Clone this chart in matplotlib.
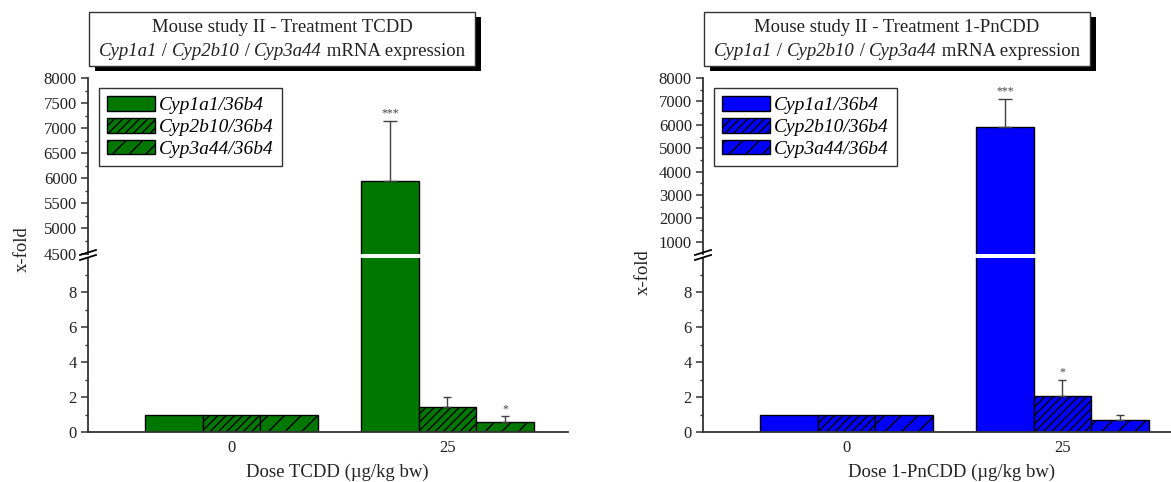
import numpy as np
import matplotlib
matplotlib.use("Agg")
import matplotlib.pyplot as plt
from matplotlib.patches import Rectangle
from matplotlib.lines import Line2D
from matplotlib.ticker import FixedLocator

plt.rcParams.update({'font.family': 'Liberation Serif',
                     'hatch.linewidth': 1.0})

W, H = 1171, 482

doses = ['0', '25']
genes = ['Cyp1a1/36b4', 'Cyp2b10/36b4', 'Cyp3a44/36b4']

# TCDD panel
tcdd_vals = [[1, 5940], [1, 1.43], [1, 0.59]]
tcdd_err = [[0, 1210], [0, 0.57], [0, 0.31]]
tcdd_sig = [['', '***'], ['', ''], ['', '*']]

# 1-PnCDD panel
pncdd_vals = [[1, 5900], [1, 2.05], [1, 0.68]]
pncdd_err = [[0, 1200], [0, 0.95], [0, 0.27]]
pncdd_sig = [['', '***'], ['', '*'], ['', '']]

# second title line: (text, italic?)
subtitle = [('Cyp1a1', True), (' / ', False), ('Cyp2b10', True), (' / ', False),
            ('Cyp3a44', True), (' mRNA expression', False)]

hatches = ['', '////', '//']
txt = '#222222'


def px(x, y):
    return x / W, 1 - y / H


fig = plt.figure(figsize=(W / 100, H / 100), dpi=100, facecolor='white')
renderer = fig.canvas.get_renderer()


def mixed_line(cx, y, parts, size):
    # lay out italic / upright pieces side by side, centred on cx
    items = []
    for s, it in parts:
        t = fig.text(0, 0, s, fontsize=size, color=txt, va='center',
                     style='italic' if it else 'normal')
        items.append(t)
    widths = [t.get_window_extent(renderer).width for t in items]
    x = cx - sum(widths) / 2
    for t, wd in zip(items, widths):
        t.set_position(px(x, y))
        x += wd


def panel(x0, title, xlabel, ylab_xy, color, vals, errs, sigs,
          up_lim, up_major, up_minor):
    w = 0.267
    ax_up = fig.add_axes([x0 / W, 1 - 253.5 / H, 480 / W, 175.5 / H])
    ax_lo = fig.add_axes([x0 / W, 1 - 432 / H, 480 / W, 174.5 / H])
    for ax in (ax_up, ax_lo):
        ax.set_xlim(-0.664, 1.558)
        for s in ('top', 'right'):
            ax.spines[s].set_visible(False)
        ax.spines['left'].set_color('#333333')
        ax.spines['left'].set_linewidth(1.3)
        ax.tick_params(axis='y', which='major', length=5, width=1.1,
                       color='#333333', labelsize=12, labelcolor=txt, pad=3)
        ax.tick_params(axis='y', which='minor', length=2.5, width=1.0,
                       color='#333333')
    ax_up.spines['bottom'].set_visible(False)
    ax_up.set_xticks([])
    ax_lo.spines['bottom'].set_color('#333333')
    ax_lo.spines['bottom'].set_linewidth(1.3)

    ax_up.set_ylim(*up_lim)
    ax_up.yaxis.set_major_locator(FixedLocator(up_major))
    ax_up.yaxis.set_minor_locator(FixedLocator(up_minor))
    ax_lo.set_ylim(0, 10)
    ax_lo.yaxis.set_major_locator(FixedLocator([0, 2, 4, 6, 8]))
    ax_lo.yaxis.set_minor_locator(FixedLocator([1, 3, 5, 7, 9]))

    x = np.arange(len(doses))
    ax_lo.set_xticks(x)
    ax_lo.set_xticklabels(doses)
    ax_lo.tick_params(axis='x', length=0, labelsize=12, labelcolor=txt, pad=6)

    handles = []
    for i, g in enumerate(genes):
        xs = x + (i - 1) * w
        for ax in (ax_up, ax_lo):
            bars = ax.bar(xs, vals[i], w, color=color, edgecolor='black',
                          linewidth=1.0, hatch=hatches[i])
        handles.append(bars[0])
        for j in range(len(doses)):
            if errs[i][j] == 0:
                continue
            top = vals[i][j] + errs[i][j]
            ax = ax_up if vals[i][j] > 10 else ax_lo
            cap = 5 if ax is ax_up else 2.6
            ax.errorbar(xs[j], vals[i][j], yerr=[[0], [errs[i][j]]], fmt='none',
                        ecolor='#404040', elinewidth=1.0, capsize=cap,
                        capthick=1.0)
            if sigs[i][j]:
                ax.annotate(sigs[i][j], (xs[j], top), xytext=(0, 1),
                            textcoords='offset points', ha='center',
                            va='bottom', fontsize=8.5, color='#444444')

    leg = ax_up.legend(handles, genes, loc='upper left',
                       bbox_to_anchor=px(x0 + 11, 88),
                       bbox_transform=fig.transFigure, borderaxespad=0,
                       prop={'style': 'italic', 'size': 14},
                       handlelength=2.45, handleheight=0.8, handletextpad=0.2,
                       labelspacing=0.18, borderpad=0.42, fancybox=False,
                       framealpha=1, edgecolor='#333333')
    leg.get_frame().set_linewidth(1.0)

    # axis break marks
    for yb in (252.5, 257.5):
        a = px(x0 - 8, yb + 2.5)
        b = px(x0 + 8, yb - 2.5)
        fig.add_artist(Line2D([a[0], b[0]], [a[1], b[1]], color='black',
                              lw=1.3, transform=fig.transFigure))

    # title box with shadow
    bx, by, bw, bh = x0 + 1, 12, 386, 54
    sx, sy = px(bx + 6, by + bh + 5)
    fig.add_artist(Rectangle((sx, sy), bw / W, bh / H, transform=fig.transFigure,
                             facecolor='black', edgecolor='black', lw=0))
    rx, ry = px(bx, by + bh)
    fig.add_artist(Rectangle((rx, ry), bw / W, bh / H, transform=fig.transFigure,
                             facecolor='white', edgecolor='#333333', lw=1.0))
    cx = bx + bw / 2
    fig.text(*px(cx, 28), title, ha='center', va='center', fontsize=13.5,
             color=txt)
    mixed_line(cx, 51, subtitle, 13.5)

    fig.text(*px(x0 + 249, 472), xlabel, ha='center', va='center',
             fontsize=13.5, color=txt)
    fig.text(*px(*ylab_xy), 'x-fold', ha='center', va='center', rotation=90,
             fontsize=13.5, color=txt)


panel(88, 'Mouse study II - Treatment TCDD', 'Dose TCDD (\u00b5g/kg bw)',
      (22, 249), '#007800', tcdd_vals, tcdd_err, tcdd_sig,
      (4500, 8000), np.arange(4500, 8001, 500), np.arange(4750, 8000, 500))
panel(703, 'Mouse study II - Treatment 1-PnCDD', 'Dose 1-PnCDD (\u00b5g/kg bw)',
      (643, 272), '#0000ff', pncdd_vals, pncdd_err, pncdd_sig,
      (500, 8000), np.arange(1000, 8001, 1000), np.arange(1500, 8000, 1000))

fig.savefig('out.png', dpi=100, facecolor='white')
